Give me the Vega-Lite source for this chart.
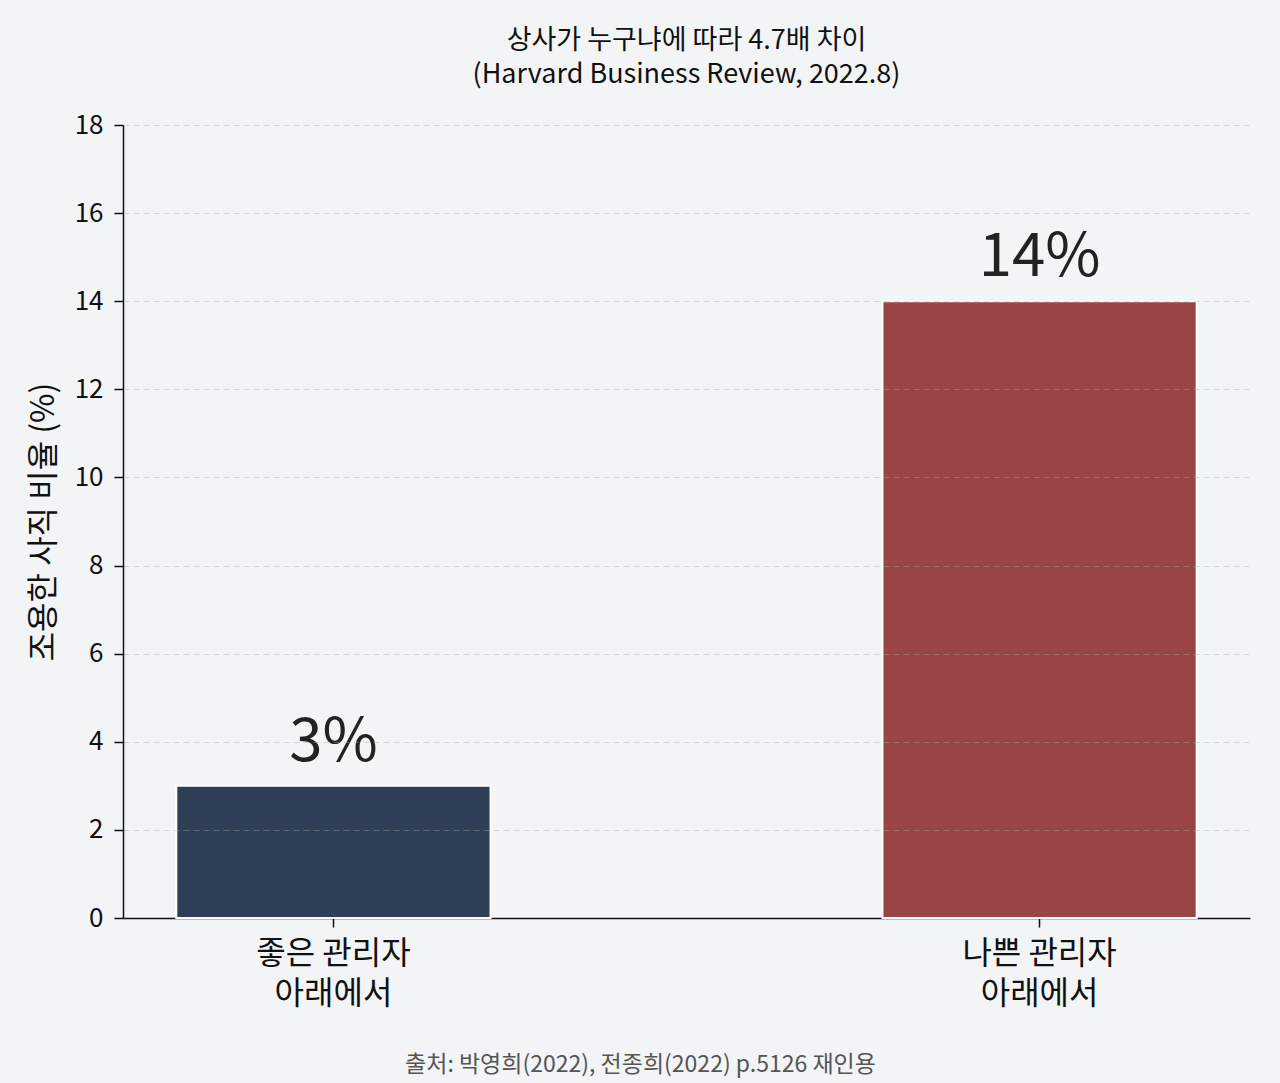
{
  "$schema": "https://vega.github.io/schema/vega-lite/v6.json",
  "description": "Quiet quitting rate by manager quality.",
  "width": 1127,
  "height": 793,
  "autosize": {"type": "none"},
  "padding": {"left": 123, "top": 125, "right": 30, "bottom": 165},
  "background": "#f3f4f6",
  "title": {
    "text": ["상사가 누구냐에 따라 4.7배 차이", "(Harvard Business Review, 2022.8)"],
    "fontSize": 27,
    "fontWeight": "normal",
    "color": "#111111",
    "lineHeight": 34,
    "anchor": "middle",
    "offset": 23
  },
  "data": {
    "values": [
      {"group": "좋은 관리자\n아래에서", "rate": 3, "label": "3%"},
      {"group": "나쁜 관리자\n아래에서", "rate": 14, "label": "14%"}
    ]
  },
  "encoding": {
    "x": {
      "field": "group",
      "type": "nominal",
      "sort": null,
      "scale": {"paddingInner": 0.555, "paddingOuter": 0.0755},
      "axis": {
        "title": "출처: 박영희(2022), 전종희(2022) p.5126 재인용",
        "titleFontSize": 23,
        "titleFontWeight": "normal",
        "titleColor": "#555555",
        "titlePadding": 44,
        "titleX": 517,
        "titleAlign": "center",
        "labelAngle": 0,
        "labelExpr": "split(datum.label, '\\n')",
        "labelFontSize": 32,
        "labelLineHeight": 40,
        "labelColor": "#111111",
        "labelPadding": 11,
        "tickSize": 9,
        "tickColor": "#111111",
        "tickWidth": 1.5,
        "domainColor": "#111111",
        "domainWidth": 1.5
      }
    },
    "y": {
      "field": "rate",
      "type": "quantitative",
      "scale": {"domain": [0, 18], "nice": false},
      "axis": {
        "title": "조용한 사직 비율 (%)",
        "titleFontSize": 32,
        "titleFontWeight": "normal",
        "titleColor": "#111111",
        "titlePadding": 14,
        "values": [0, 2, 4, 6, 8, 10, 12, 14, 16, 18],
        "labelFontSize": 26,
        "labelColor": "#111111",
        "labelPadding": 11,
        "tickSize": 9,
        "tickColor": "#111111",
        "tickWidth": 1.5,
        "domainColor": "#111111",
        "domainWidth": 1.5,
        "grid": true,
        "gridColor": "#aaaaaa",
        "gridOpacity": {"condition": {"test": "datum.value === 0", "value": 0}, "value": 0.4},
        "gridDash": [6, 4],
        "gridWidth": 1.2,
        "zindex": 1
      }
    }
  },
  "layer": [
    {
      "mark": {"type": "bar", "stroke": "white", "strokeWidth": 2},
      "encoding": {
        "color": {
          "field": "group",
          "type": "nominal",
          "scale": {
            "domain": ["좋은 관리자\n아래에서", "나쁜 관리자\n아래에서"],
            "range": ["#2e3f57", "#9a4545"]
          },
          "legend": null
        }
      }
    },
    {
      "mark": {"type": "text", "baseline": "alphabetic", "dy": -25, "fontSize": 60, "color": "#1e2420"},
      "encoding": {"text": {"field": "label"}}
    }
  ],
  "config": {
    "font": "Noto Sans CJK KR",
    "view": {"stroke": null}
  }
}
